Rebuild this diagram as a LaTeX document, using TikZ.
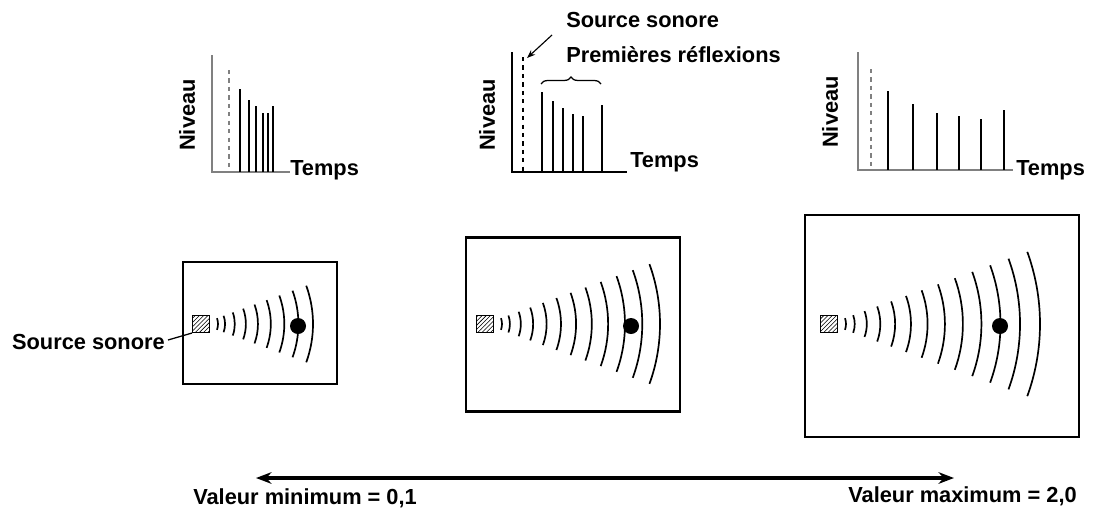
\documentclass[tikz,border=0pt]{standalone}
\usepackage{fontspec}
\setmainfont{Liberation Sans}
\usetikzlibrary{patterns,arrows.meta,decorations.pathreplacing}
\begin{document}
\begin{tikzpicture}[
    x=0.025cm, y=-0.025cm,
    lbl/.style={font=\fontsize{15.5}{18}\selectfont\bfseries, inner sep=0pt},
    axis/.style={line width=1.1pt},
    bar/.style={line width=1.1pt},
    fatbar/.style={line width=1.7pt},
    room/.style={draw, line width=2pt, inner sep=0pt},
    src/.style={draw, line width=0.9pt, pattern=north east lines, minimum size=0.42cm, inner sep=0pt},
    ear/.style={circle, fill=black, minimum size=0.4cm, inner sep=0pt},
    wave/.style={line width=1.2pt}
  ]
  \useasboundingbox (0,0) rectangle (1099,515);

  % waves from a source: x, y, count, outer radius
  \newcommand{\waves}[4]{%
    \foreach \i in {0,...,\numexpr#3-1\relax}{
      \pgfmathsetmacro{\r}{17+(#4-17)*(\i/(#3-1))^1.25}
      \draw[wave] ({#1+\r*cos(20)},{#2-\r*sin(20)}) arc[start angle=20, end angle=-20, radius=\r*0.025cm];
    }}

  % chart 1
  \draw[axis, gray] (212,55) -- (212,172) -- (290,172);
  \draw[bar, gray, dashed] (229,70) -- (229,172);
  \foreach \x/\t in {240/89, 249/100, 256/106, 263/113, 268/113, 273/106}
    \draw[bar] (\x,\t) -- (\x,172);
  \node[lbl, rotate=90] (niv1) at (187,115) {Niveau};
  \node[lbl, anchor=west] (tps1) at (290,170) {Temps};

  % chart 2
  \draw[axis] (512,52) -- (512,172) -- (627,172);
  \draw[fatbar, dashed] (523,57) -- (523,172);
  \foreach \x/\t in {542/92, 553/101, 563/108, 573/114, 583/116, 602/105}
    \draw[fatbar] (\x,\t) -- (\x,172);
  \draw[decorate, decoration={brace, amplitude=5pt}, line width=0.9pt] (541,84) -- (601,84);
  \node[lbl, rotate=90] (niv2) at (487,115) {Niveau};
  \node[lbl, anchor=west] (tps2) at (630,162) {Temps};
  \node[lbl, anchor=west] (ssrc) at (566,20) {Source sonore};
  \node[lbl, anchor=west] (refl) at (566,55) {Premières réflexions};
  \coordinate (from2) at (552,35);
  \coordinate (dash2) at (527,58);
  \draw[-{Stealth[length=6pt]}, line width=0.8pt] (from2) -- (dash2);

  % chart 3
  \draw[axis, gray] (858,52) -- (858,170) -- (1013,170);
  \draw[bar, gray, dashed] (871,69) -- (871,170);
  \foreach \x/\t in {888/91, 913/104, 937/113, 959/116, 981/119, 1004/110}
    \draw[bar] (\x,\t) -- (\x,170);
  \node[lbl, rotate=90] (niv3) at (830,112) {Niveau};
  \node[lbl, anchor=west] (tps3) at (1016,170) {Temps};

  % rooms
  \node[room, minimum width=3.85cm, minimum height=3.05cm] (room1) at (260,323) {};
  \node[room, minimum width=5.35cm, minimum height=4.33cm] (room2) at (573,324.5) {};
  \node[room, minimum width=6.85cm, minimum height=5.55cm] (room3) at (942,326) {};

  \node[src] (src1) at (201,324) {};
  \node[src] (src2) at (485,324) {};
  \node[src] (src3) at (829,324) {};
  \waves{201}{324}{9}{112}
  \waves{485}{324}{12}{175}
  \waves{829}{324}{13}{211}
  \node[ear] (ear1) at (298,326) {};
  \node[ear] (ear2) at (631,326) {};
  \node[ear] (ear3) at (1000,326) {};

  \node[lbl, anchor=east] (srclbl) at (165,342) {Source sonore};
  \draw[line width=0.9pt] (srclbl.east) ++(3,-2) -- (src1.south west);

  % scale
  \coordinate (lo) at (256,478);
  \coordinate (hi) at (954,478);
  \draw[{Stealth[length=11pt]}-{Stealth[length=11pt]}, line width=2.2pt] (lo) -- (hi);
  \node[lbl, anchor=west] (vmin) at (193,498) {Valeur minimum = 0,1};
  \node[lbl, anchor=east] (vmax) at (1077,496) {Valeur maximum = 2,0};
\end{tikzpicture}
\end{document}
